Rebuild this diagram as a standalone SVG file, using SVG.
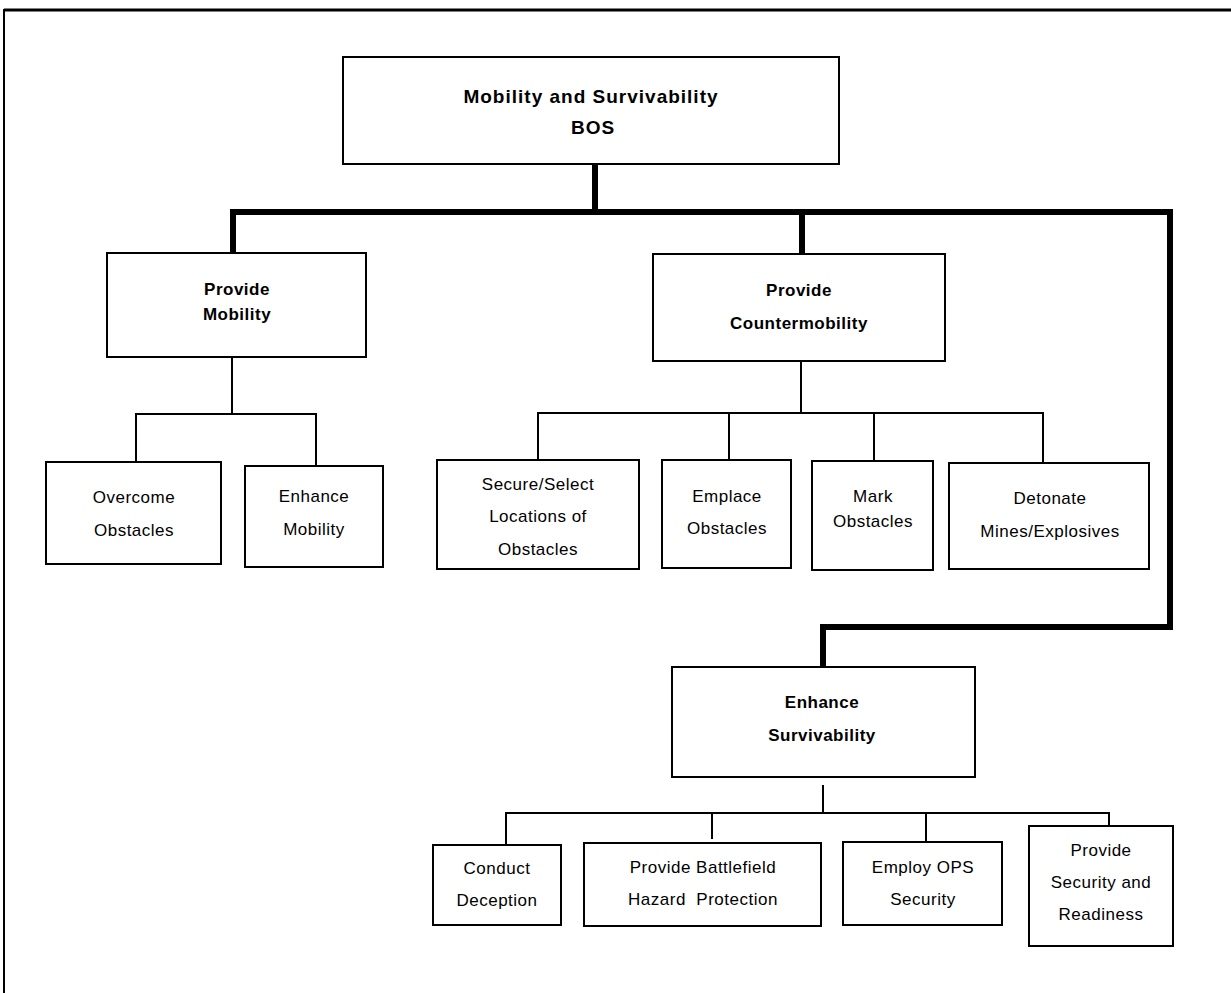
<svg xmlns="http://www.w3.org/2000/svg" width="1231" height="993" viewBox="0 0 1231 993">
<style>
  .box{fill:#fff;stroke:#000;stroke-width:2}
  .thin{fill:none;stroke:#000;stroke-width:2}
  .thick{fill:none;stroke:#000;stroke-width:6;stroke-linejoin:miter}
  .frame{fill:none;stroke:#000}
  text{font-family:"Liberation Sans",Arial,sans-serif;fill:#000;text-anchor:middle}
  .t{font-size:19px;font-weight:bold;letter-spacing:1px}
  .b{font-size:17px;font-weight:bold;letter-spacing:0.5px}
  .r{font-size:17px;letter-spacing:0.5px}
</style>
<rect width="1231" height="993" fill="#fff"/>
<g id="frame">
  <line class="frame" x1="4" y1="10" x2="1231" y2="10" stroke-width="3"/>
  <line class="frame" x1="4" y1="9" x2="4" y2="993" stroke-width="2"/>
</g>
<g id="connectors">
  <path class="thick" d="M595,164 V212"/>
  <path class="thick" d="M233,253 V212 H1170 V627 H823 V667"/>
  <path class="thick" d="M802,212 V254"/>
  <path class="thin" d="M232,357 V414"/>
  <path class="thin" d="M136,462 V414 H316 V466"/>
  <path class="thin" d="M801,361 V413"/>
  <path class="thin" d="M538,460 V413 H1043 V463"/>
  <path class="thin" d="M729,413 V460"/>
  <path class="thin" d="M874,413 V461"/>
  <path class="thin" d="M823,785 V813"/>
  <path class="thin" d="M506,845 V813 H1109 V826"/>
  <path class="thin" d="M712,813 V839"/>
  <path class="thin" d="M926,813 V842"/>
</g>
<g id="root">
  <rect class="box" x="343" y="57" width="496" height="107"/>
  <text class="t" x="591" y="103">Mobility and Survivability</text>
  <text class="t" x="593" y="134">BOS</text>
</g>
<g id="provide-mobility">
  <rect class="box" x="107" y="253" width="259" height="104"/>
  <text class="b" x="237" y="295">Provide</text>
  <text class="b" x="237" y="320">Mobility</text>
</g>
<g id="provide-countermobility">
  <rect class="box" x="653" y="254" width="292" height="107"/>
  <text class="b" x="799" y="296">Provide</text>
  <text class="b" x="799" y="329">Countermobility</text>
</g>
<g id="enhance-survivability">
  <rect class="box" x="672" y="667" width="303" height="110"/>
  <text class="b" x="822" y="708">Enhance</text>
  <text class="b" x="822" y="741">Survivability</text>
</g>
<g id="overcome-obstacles">
  <rect class="box" x="46" y="462" width="175" height="102"/>
  <text class="r" x="134" y="503">Overcome</text>
  <text class="r" x="134" y="536">Obstacles</text>
</g>
<g id="enhance-mobility">
  <rect class="box" x="245" y="466" width="138" height="101"/>
  <text class="r" x="314" y="502">Enhance</text>
  <text class="r" x="314" y="535">Mobility</text>
</g>
<g id="secure-select">
  <rect class="box" x="437" y="460" width="202" height="109"/>
  <text class="r" x="538" y="490">Secure/Select</text>
  <text class="r" x="538" y="522">Locations of</text>
  <text class="r" x="538" y="555">Obstacles</text>
</g>
<g id="emplace-obstacles">
  <rect class="box" x="662" y="460" width="129" height="108"/>
  <text class="r" x="727" y="502">Emplace</text>
  <text class="r" x="727" y="534">Obstacles</text>
</g>
<g id="mark-obstacles">
  <rect class="box" x="812" y="461" width="121" height="109"/>
  <text class="r" x="873" y="502">Mark</text>
  <text class="r" x="873" y="527">Obstacles</text>
</g>
<g id="detonate">
  <rect class="box" x="949" y="463" width="200" height="106"/>
  <text class="r" x="1050" y="504">Detonate</text>
  <text class="r" x="1050" y="537">Mines/Explosives</text>
</g>
<g id="conduct-deception">
  <rect class="box" x="433" y="845" width="128" height="80"/>
  <text class="r" x="497" y="874">Conduct</text>
  <text class="r" x="497" y="906">Deception</text>
</g>
<g id="battlefield-hazard">
  <rect class="box" x="584" y="843" width="237" height="83"/>
  <text class="r" x="703" y="873">Provide Battlefield</text>
  <text class="r" x="703" y="905">Hazard&#160; Protection</text>
</g>
<g id="employ-ops">
  <rect class="box" x="843" y="842" width="159" height="83"/>
  <text class="r" x="923" y="873">Employ OPS</text>
  <text class="r" x="923" y="905">Security</text>
</g>
<g id="security-readiness">
  <rect class="box" x="1029" y="826" width="144" height="120"/>
  <text class="r" x="1101" y="856">Provide</text>
  <text class="r" x="1101" y="888">Security and</text>
  <text class="r" x="1101" y="920">Readiness</text>
</g>
</svg>
